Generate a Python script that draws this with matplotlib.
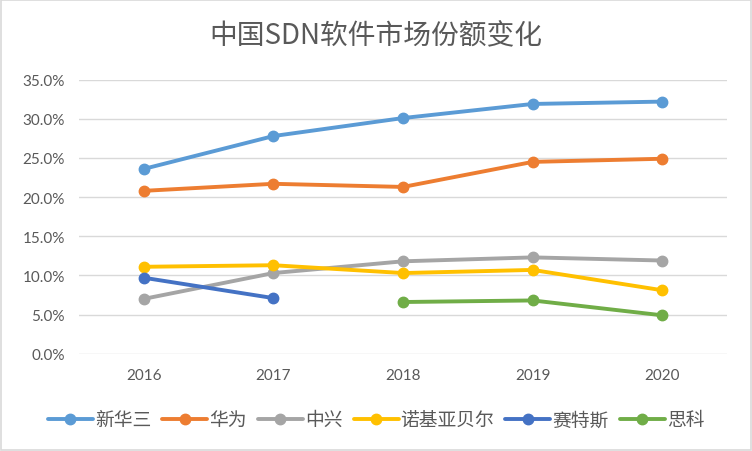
import matplotlib
matplotlib.use("Agg")
import matplotlib.pyplot as plt
import numpy as np
from matplotlib.patches import Rectangle
from matplotlib.ticker import FuncFormatter

plt.rcParams["font.family"] = ["Noto Sans CJK SC", "DejaVu Sans"]

years = ["2016", "2017", "2018", "2019", "2020"]
nan = np.nan
h3c = [23.6, 27.8, 30.1, 31.9, 32.2]
huawei = [20.8, 21.7, 21.3, 24.5, 24.9]
zte = [7.0, 10.3, 11.8, 12.3, 11.9]
nokia_bell = [11.1, 11.3, 10.3, 10.7, 8.1]
sdnlab = [9.7, 7.1, nan, nan, nan]
cisco = [nan, nan, 6.6, 6.8, 4.9]

series = [
    ("新华三", h3c, "#5B9BD5"),
    ("华为", huawei, "#ED7D31"),
    ("中兴", zte, "#A5A5A5"),
    ("诺基亚贝尔", nokia_bell, "#FFC000"),
    ("赛特斯", sdnlab, "#4472C4"),
    ("思科", cisco, "#70AD47"),
]

fig = plt.figure(figsize=(7.52, 4.52), dpi=100)
ax = fig.add_axes([0.105, 0.2153, 0.862, 0.6062])

x = np.arange(len(years))
for name, vals, color in series:
    ax.plot(x, vals, color=color, lw=2.8, marker="o", markersize=7.5,
            label=name, solid_capstyle="round")

ax.set_xlim(-0.5, len(years) - 0.5)
ax.set_ylim(0, 35)
ax.set_yticks(np.arange(0, 36, 5))
ax.yaxis.set_major_formatter(FuncFormatter(lambda v, p: f"{v:.1f}%"))
ax.set_xticks(x)
ax.set_xticklabels(years)
ax.grid(axis="y", color="#D9D9D9", lw=1.0)
ax.set_axisbelow(True)
for s in ax.spines.values():
    s.set_visible(False)
ax.tick_params(length=0, labelsize=11, labelcolor="#595959")
ax.tick_params(axis="y", pad=10)
ax.tick_params(axis="x", pad=10)
for lab in ax.get_xticklabels() + ax.get_yticklabels():
    lab.set_family(["Lato", "DejaVu Sans"])

fig.text(0.5, 0.92, "中国SDN软件市场份额变化", ha="center", va="center",
         fontsize=20, color="#595959")

fig.legend(loc="center", bbox_to_anchor=(0.5, 0.069), ncol=6, frameon=False,
           fontsize=13.5, handlelength=2.4, columnspacing=0.6, handletextpad=0.1,
           labelcolor="#595959")

fig.patches.append(Rectangle((0.0015, 0.002), 0.997, 0.996, transform=fig.transFigure,
                             fill=False, edgecolor="#D9D9D9", lw=1.2))

fig.savefig("out.png", dpi=100)
